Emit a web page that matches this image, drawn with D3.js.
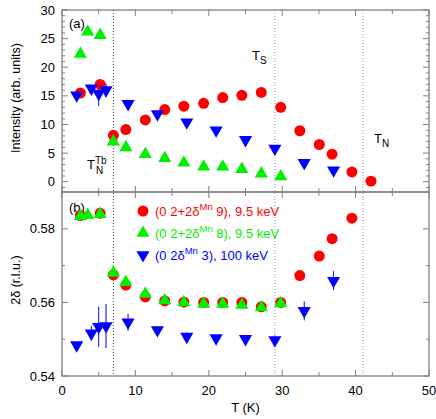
<!DOCTYPE html>
<html><head><meta charset="utf-8">
<script src="https://cdn.jsdelivr.net/npm/d3@7"></script>
<style>body{margin:0;background:#fff}svg{display:block;font-family:"Liberation Sans",Arial,sans-serif}</style>
</head><body><svg id="c" width="436" height="419"></svg>
<script>
// ---- data ----
const redT   = [2.5, 5.2, 7.0, 8.7, 11.35, 14.0, 16.6, 19.3, 21.9, 24.5, 27.15, 29.8, 32.4, 35.05, 36.8, 39.5, 42.1];
const redI   = [15.5, 17.0, 8.1, 9.1, 10.8, 12.6, 13.2, 13.7, 14.7, 15.1, 15.6, 13.0, 8.9, 6.5, 4.8, 1.7, 0.1];
const red2d  = [0.5836, 0.5842, 0.5675, 0.5647, 0.5615, 0.5604, 0.5601, 0.5600, 0.5600, 0.5600, 0.5588, 0.5600, 0.5673, 0.5726, 0.5773, 0.5829];
const red2dT = [2.5, 5.2, 7.0, 8.7, 11.35, 14.0, 16.6, 19.3, 21.9, 24.5, 27.15, 29.8, 32.4, 35.05, 36.8, 39.5];
const grnT   = [2.5, 3.5, 5.2, 7.0, 8.7, 11.35, 14.0, 16.6, 19.3, 21.9, 24.5, 27.15, 29.8];
const grnI   = [22.3, 26.2, 25.6, 7.0, 6.0, 4.8, 4.1, 3.3, 2.6, 2.6, 2.2, 1.4, 0.9];
const grn2d  = [0.5834, 0.5837, 0.5840, 0.5680, 0.5655, 0.5623, 0.5605, 0.5600, 0.5596, 0.5596, 0.5593, 0.5586, 0.5597];
const bluT   = [2.0, 4.0, 5.0, 6.0, 9.0, 13.0, 17.0, 21.0, 25.0, 29.0, 33.0, 37.0];
const bluI   = [15.1, 16.3, 15.4, 16.0, 13.6, 11.8, 10.4, 9.0, 7.3, 5.8, 3.3, 2.0];
const bluIerr= [0.4, 0.6, 2.2, 1.2, 0.6, 0.5, 0.4, 0.4, 0.4, 0.4, 0.4, 0.3];
const blu2d  = [0.5484, 0.5516, 0.5534, 0.5536, 0.5546, 0.5525, 0.5507, 0.5503, 0.5501, 0.5498, 0.5577, 0.5659];
const blu2dErr=[0.0008, 0.002, 0.0055, 0.006, 0.0023, 0.001, 0.0012, 0.0008, 0.0008, 0.0012, 0.0026, 0.0026];
const vlines = [7, 29, 41];
const xTicks = [0, 10, 20, 30, 40, 50];
const topTicks = [0, 5, 10, 15, 20, 25, 30];
const botTicks = [0.54, 0.56, 0.58];
const legendLabels = [
  {pre:"(0 2+2δ", sup:"Mn", post:" 9), 9.5 keV", color:"#ff0000", sym:"circle"},
  {pre:"(0 2+2δ", sup:"Mn", post:" 8), 9.5 keV", color:"#00f000", sym:"up"},
  {pre:"(0 2δ", sup:"Mn", post:" 3), 100 keV", color:"#0000ff", sym:"down"}
];

const RED="#ff0000", GRN="#00f000", BLU="#0000ff", AX="#808080";
const svg = d3.select("#c");
const L=62, R=429, T1=10, B1=192, T2=192, B2=376;
const x = d3.scaleLinear().domain([0,50]).range([L,R]);
const yTop = d3.scaleLinear().domain([-1.8,30]).range([B1,T1]);
const yBot = d3.scaleLinear().domain([0.54,0.59]).range([B2,T2]);

// dotted vertical lines
svg.selectAll("line.v").data(vlines).join("line")
  .attr("x1",d=>x(d)).attr("x2",d=>x(d)).attr("y1",T1).attr("y2",B2)
  .attr("stroke",(d,i)=>i===0?"#444":"#999").attr("stroke-width",1).attr("stroke-dasharray","1,2");

// frames and ticks
function frame(y0,y1){
  svg.append("rect").attr("x",L).attr("y",y0).attr("width",R-L).attr("height",y1-y0)
    .attr("fill","none").attr("stroke",AX).attr("stroke-width",1.3);
  const xt = d3.range(0,51,5);
  xt.forEach(t=>{
    const len = t%10===0?6:4;
    svg.append("line").attr("x1",x(t)).attr("x2",x(t)).attr("y1",y1).attr("y2",y1-len).attr("stroke",AX).attr("stroke-width",1);
    svg.append("line").attr("x1",x(t)).attr("x2",x(t)).attr("y1",y0).attr("y2",y0+len).attr("stroke",AX).attr("stroke-width",1);
  });
}
frame(T1,B1); frame(T2,B2);
// top y ticks
d3.range(-1,31,1).forEach(v=>{
  const len = v%5===0?6:3;
  [[L,1],[R,-1]].forEach(([xx,s])=>{
    svg.append("line").attr("x1",xx).attr("x2",xx+s*len).attr("y1",yTop(v)).attr("y2",yTop(v)).attr("stroke",AX).attr("stroke-width",1);
  });
});
// bottom y ticks
d3.range(0,5).map(i=>0.54+i*0.01).forEach((v,i)=>{
  const len = i%2===0?6:3;
  [[L,1],[R,-1]].forEach(([xx,s])=>{
    svg.append("line").attr("x1",xx).attr("x2",xx+s*len).attr("y1",yBot(v)).attr("y2",yBot(v)).attr("stroke",AX).attr("stroke-width",1);
  });
});
// tick labels
svg.selectAll("text.xt").data(xTicks).join("text").attr("x",d=>x(d)).attr("y",395)
  .attr("text-anchor","middle").attr("font-size",13).text(d=>d);
svg.selectAll("text.yt").data(topTicks).join("text").attr("x",55).attr("y",d=>yTop(d)+4.5)
  .attr("text-anchor","end").attr("font-size",13).text(d=>d);
svg.selectAll("text.yb").data(botTicks).join("text").attr("x",55).attr("y",d=>yBot(d)+4.5)
  .attr("text-anchor","end").attr("font-size",13).text(d=>d.toFixed(2));
// axis titles
svg.append("text").attr("transform","translate(20,98) rotate(-90)").attr("text-anchor","middle").attr("font-size",12.5).text("Intensity (arb. units)");
svg.append("text").attr("transform","translate(20,280) rotate(-90)").attr("text-anchor","middle").attr("font-size",12.5).text("2δ (r.l.u.)");
svg.append("text").attr("x",x(25)).attr("y",412).attr("text-anchor","middle").attr("font-size",13).text("T (K)");

// panel labels
svg.append("text").attr("x",69).attr("y",28).attr("font-size",13).text("(a)");
svg.append("text").attr("x",69).attr("y",212).attr("font-size",13).text("(b)");
// transition labels
function tlabel(xx,yy,sub,sup){
  const t=svg.append("text").attr("x",xx).attr("y",yy).attr("font-size",13);
  t.append("tspan").text("T");
  if(sup){
    t.append("tspan").attr("font-size",10).attr("dy",-5).text(sup);
    t.append("tspan").attr("font-size",10).attr("x",xx+9).attr("dy",10).text(sub);
  } else {
    t.append("tspan").attr("font-size",10).attr("dy",4).text(sub);
  }
}
tlabel(87,169,"N","Tb");
tlabel(252,60,"S");
tlabel(374,143,"N");

// markers
const sym = {
  circle: d3.symbol().type(d3.symbolCircle).size(95),
  up: d3.symbol().type(d3.symbolTriangle).size(75),
};
function drawErr(xs,ys,es,ysc,color){
  svg.append("g").selectAll("line").data(xs).join("line")
    .attr("x1",d=>x(d)).attr("x2",d=>x(d))
    .attr("y1",(d,i)=>ysc(ys[i]-es[i])).attr("y2",(d,i)=>ysc(ys[i]+es[i]))
    .attr("stroke",color).attr("stroke-width",1);
}
function drawPts(xs,ys,ysc,type,color){
  svg.append("g").selectAll("path").data(xs).join("path")
    .attr("transform",(d,i)=>`translate(${x(d)},${ysc(ys[i])})${type==="down"?" rotate(180)":""}`)
    .attr("d",type==="circle"?sym.circle:sym.up).attr("fill",color);
}
drawErr(bluT,bluI,bluIerr,yTop,BLU);
drawErr(bluT,blu2d,blu2dErr,yBot,BLU);
drawPts(redT,redI,yTop,"circle",RED);
drawPts(grnT,grnI,yTop,"up",GRN);
drawPts(bluT,bluI,yTop,"down",BLU);
drawPts(red2dT,red2d,yBot,"circle",RED);
drawPts(grnT,grn2d,yBot,"up",GRN);
drawPts(bluT,blu2d,yBot,"down",BLU);

// legend
legendLabels.forEach((d,i)=>{
  const yy = 211 + i*22;
  const tr = `translate(143,${yy})${d.sym==="down"?" rotate(180)":""}`;
  svg.append("path").attr("transform",tr).attr("d",d.sym==="circle"?sym.circle:sym.up).attr("fill",d.color);
  const t = svg.append("text").attr("x",155).attr("y",yy+4.5).attr("font-size",13).attr("fill",d.color);
  t.append("tspan").text(d.pre);
  t.append("tspan").attr("font-size",9.5).attr("dy",-6).text(d.sup);
  t.append("tspan").attr("dy",6).text(d.post);
});
</script></body></html>
